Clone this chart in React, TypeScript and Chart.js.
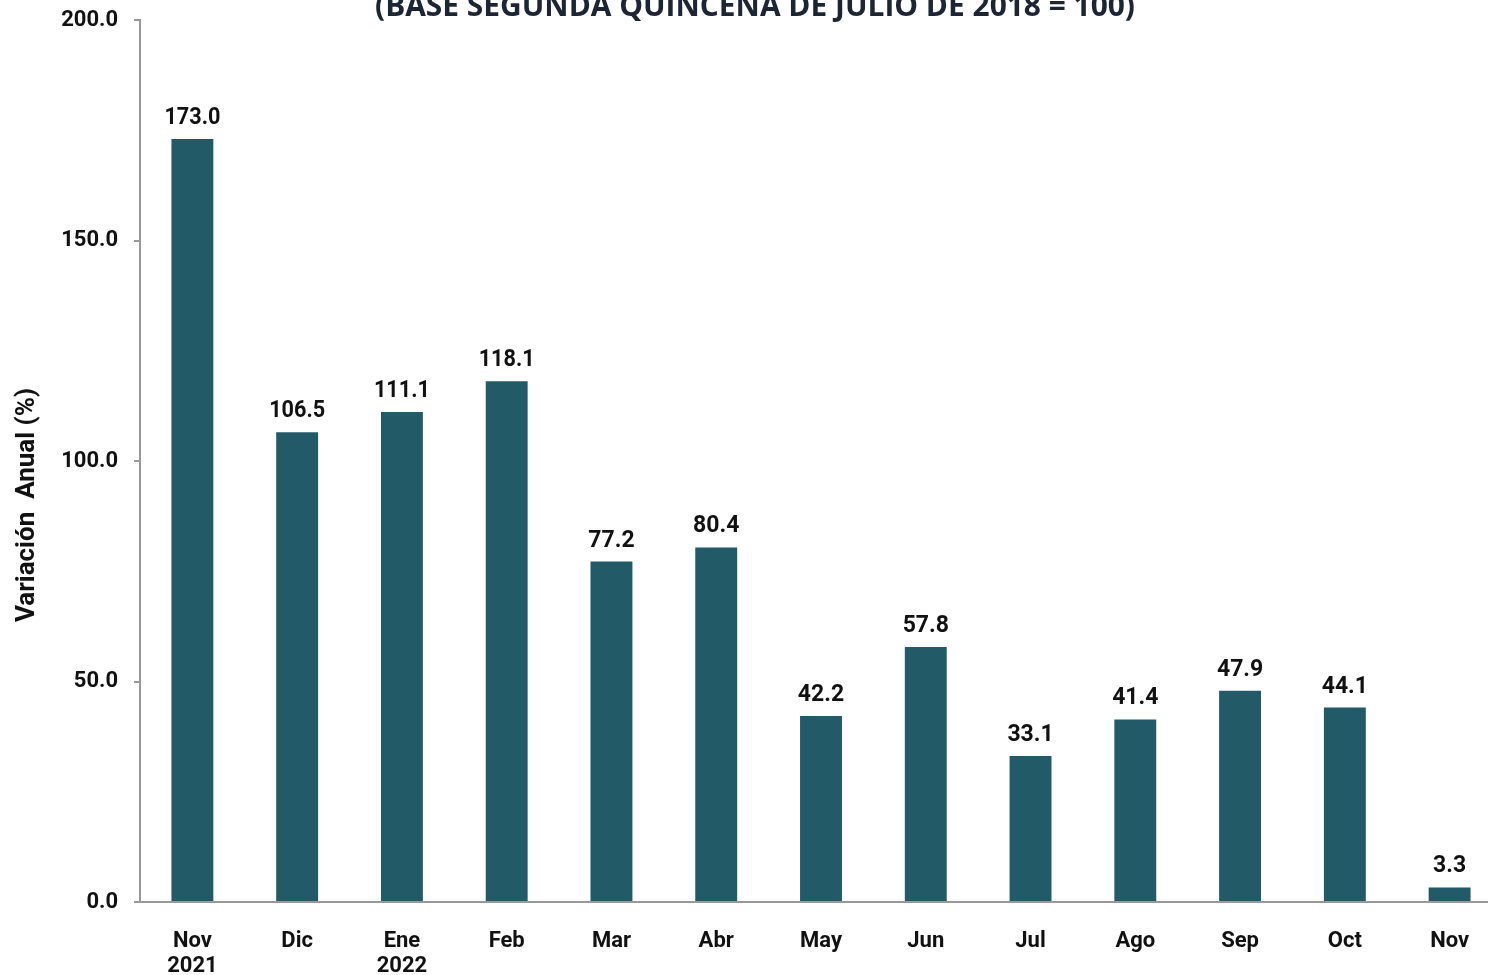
import React, { useEffect, useRef } from "react";
import { Chart, registerables } from "chart.js";

Chart.register(...registerables);

const titleText = "(BASE SEGUNDA QUINCENA DE JULIO DE 2018 = 100)";
const yAxisTitle = "Variación  Anual (%)";
const categories: (string | string[])[] = [
  ["Nov", "2021"], "Dic", ["Ene", "2022"], "Feb", "Mar", "Abr", "May", "Jun", "Jul", "Ago", "Sep", "Oct", "Nov",
];
const values: number[] = [173.0, 106.5, 111.1, 118.1, 77.2, 80.4, 42.2, 57.8, 33.1, 41.4, 47.9, 44.1, 3.3];
const yMin = 0;
const yMax = 200;
const yStep = 50;

const BAR_COLOR = "#235a68";
const FONT = "Roboto, 'Noto Sans', sans-serif";

const W = 1510;
const H = 1000;
const OFFSET_TOP = 20;

const labelsPlugin = {
  id: "customLabels",
  afterDatasetsDraw(chart: any) {
    const ctx = chart.ctx;
    ctx.save();
    const meta = chart.getDatasetMeta(0);
    ctx.fillStyle = "#111111";
    ctx.font = `bold 23px ${FONT}`;
    ctx.textAlign = "center";
    ctx.textBaseline = "alphabetic";
    meta.data.forEach((el: any, i: number) => {
      ctx.fillText(values[i].toFixed(1), el.x, el.y - 15, 56);
    });
    // title
    ctx.fillStyle = "#1c2533";
    ctx.font = `bold 30px 'Open Sans', ${FONT}`;
    ctx.fillText(titleText, 755, 16 + OFFSET_TOP, 760);
    // y axis title
    ctx.translate(27, 505 + OFFSET_TOP);
    ctx.rotate(-Math.PI / 2);
    ctx.fillStyle = "#111111";
    ctx.font = `bold 26px ${FONT}`;
    ctx.textBaseline = "middle";
    ctx.fillText(yAxisTitle, 0, 0);
    ctx.restore();
  },
};

export default function App() {
  const ref = useRef<HTMLCanvasElement | null>(null);
  useEffect(() => {
    if (!ref.current) return;
    const chart = new Chart(ref.current, {
      type: "bar",
      data: {
        labels: categories,
        datasets: [
          {
            data: values,
            backgroundColor: BAR_COLOR,
            barPercentage: 0.4,
            categoryPercentage: 1,
          },
        ],
      },
      options: {
        animation: false,
        responsive: false,
        maintainAspectRatio: false,
        layout: { padding: { top: 40, right: 8, left: 0, bottom: 0 } },
        plugins: { legend: { display: false }, tooltip: { enabled: false }, title: { display: false } },
        scales: {
          x: {
            grid: { display: false },
            border: { display: true, color: "#999999", width: 2 },
            ticks: {
              color: "#111111",
              font: { family: FONT, size: 22, weight: "bold", lineHeight: 1.15 },
              padding: 19,
              maxRotation: 0,
              autoSkip: false,
            },
            afterFit(scale: any) {
              scale.height = H - 922;
            },
          },
          y: {
            min: yMin,
            max: yMax,
            grid: { display: true, drawOnChartArea: false, drawTicks: true, tickLength: 6, color: "#999999", lineWidth: 2 },
            border: { display: true, color: "#999999", width: 2 },
            ticks: {
              stepSize: yStep,
              color: "#111111",
              font: { family: FONT, size: 22, weight: "bold" },
              padding: 16,
              callback: (v: any) => Number(v).toFixed(1),
            },
            afterFit(scale: any) {
              scale.width = 140;
            },
          },
        },
      },
      plugins: [labelsPlugin],
    });
    return () => chart.destroy();
  }, []);
  return (
    <div style={{ position: "fixed", left: 0, top: -OFFSET_TOP, width: W, height: H, background: "#fff" }}>
      <canvas ref={ref} width={W} height={H} style={{ width: W, height: H, display: "block" }} />
    </div>
  );
}
